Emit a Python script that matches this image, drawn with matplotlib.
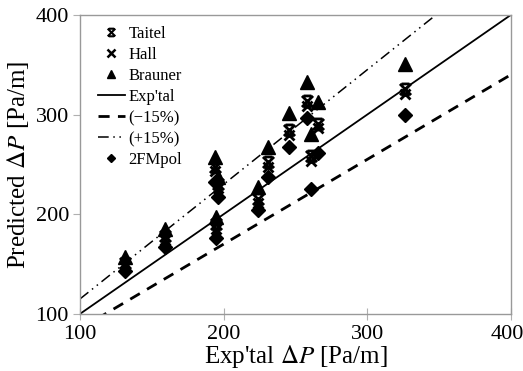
import numpy as np
import matplotlib
matplotlib.use('Agg')
import matplotlib.pyplot as plt
import matplotlib.transforms as mtransforms
from matplotlib.path import Path
from matplotlib.lines import Line2D

plt.rcParams['font.family'] = 'Liberation Serif'
plt.rcParams['mathtext.fontset'] = 'stix'

# Datos
exp_dp = [131, 159, 194, 196, 195, 224, 231, 245.5, 258, 261, 266, 326]
taitel = [151, 178, 247, 230, 190, 215, 252, 284, 314, 258, 290, 326]
hall = [147, 174, 243, 226, 185, 211, 247, 279, 309, 253, 286, 321]
brauner = [157, 185, 257, 237, 197, 227, 267, 302, 333, 280, 313, 351]
fm2pol = [143, 167, 232, 217, 176, 204, 237, 267, 297, 225, 261, 300]

line_x = [100, 400]

# Marcador tipo "x" con barras (Taitel)
taitel_marker = Path(
    [(-1, -1), (1, 1), (-1, 1), (1, -1), (-0.7, 1), (0.7, 1), (-0.7, -1), (0.7, -1)],
    [Path.MOVETO, Path.LINETO, Path.MOVETO, Path.LINETO,
     Path.MOVETO, Path.LINETO, Path.MOVETO, Path.LINETO])

fig = plt.figure(figsize=(5.23, 3.71), dpi=100)
ax = fig.add_axes([0.153, 0.154, 0.824, 0.806])

x = np.array(line_x, dtype=float)
ax.plot(x, x, color='black', lw=1.3, zorder=2)
ax.plot(x, 0.85 * x, color='black', lw=2.0, linestyle=(0, (4, 3)), zorder=2)
ax.plot(x, 1.15 * x, color='black', lw=1.1, linestyle=(0, (7, 3, 1, 3, 1, 3)), zorder=2)

ax.plot(exp_dp, brauner, linestyle='none', marker='^', color='black', ms=9.5, zorder=3)
ax.plot(exp_dp, taitel, linestyle='none', marker=taitel_marker, color='black',
        ms=8, mew=2, zorder=3)
ax.plot(exp_dp, hall, linestyle='none', marker='x', color='black', ms=7.5, mew=2, zorder=3)
ax.plot(exp_dp, fm2pol, linestyle='none', marker='D', color='black', ms=7.5, zorder=3)

ax.set_xlim(100, 400)
ax.set_ylim(100, 400)
ax.set_xticks([100, 200, 300, 400])
ax.set_yticks([100, 200, 300, 400])
ax.tick_params(axis='x', direction='inout', length=8, color='#b0b0b0', labelsize=16, pad=4)
ax.tick_params(axis='y', direction='out', length=5, color='#b0b0b0', labelsize=16, pad=3)
for s in ax.spines.values():
    s.set_color('#999999')
    s.set_linewidth(1.0)

# mover un poco la ultima etiqueta para que no se corte
last = ax.get_xticklabels()[-1]
last.set_transform(last.get_transform() +
                   mtransforms.ScaledTranslation(-4 / 100, 0, fig.dpi_scale_trans))

ax.set_xlabel(r"Exp'tal $\Delta P$ [Pa/m]", fontsize=18, labelpad=-1)
ax.set_ylabel(r"Predicted $\Delta P$ [Pa/m]", fontsize=18, labelpad=3)

handles = [
    Line2D([], [], linestyle='none', marker=taitel_marker, color='black', ms=5.5, mew=1.5),
    Line2D([], [], linestyle='none', marker='x', color='black', ms=5.5, mew=1.8),
    Line2D([], [], linestyle='none', marker='^', color='black', ms=6),
    Line2D([], [], color='black', lw=1.3),
    Line2D([], [], color='black', lw=2.0, linestyle=(0, (4, 3))),
    Line2D([], [], color='black', lw=1.1, linestyle=(0, (7, 3, 1, 3, 1, 3))),
    Line2D([], [], linestyle='none', marker='D', color='black', ms=4),
]
labels = ['Taitel', 'Hall', 'Brauner', "Exp'tal", '(\u221215%)', '(+15%)', '2FMpol']
ax.legend(handles, labels, loc='upper left', bbox_to_anchor=(0.026, 0.985),
          frameon=False, fontsize=12, handlelength=1.6, handletextpad=0.25,
          labelspacing=0.3, borderaxespad=0)

fig.savefig('out.png', dpi=100)
